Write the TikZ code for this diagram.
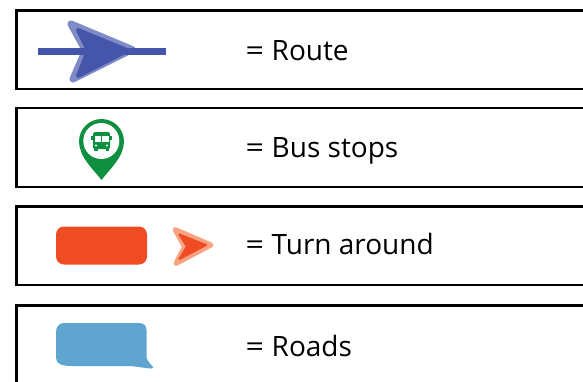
\documentclass[tikz,border=0pt]{standalone}
\usepackage{fontspec}
\setmainfont{Open Sans}
\definecolor{routedark}{HTML}{4455AA}
\definecolor{routelight}{HTML}{7F8BC6}
\definecolor{stopgreen}{HTML}{0F9040}
\definecolor{turnred}{HTML}{F04C23}
\definecolor{turnlight}{HTML}{F9A383}
\definecolor{roadblue}{HTML}{60A5CF}
\tikzset{
    rowbox/.style={draw=black, line width=2.5pt},
    rowlabel/.style={anchor=base west, inner sep=0pt, font=\fontsize{28}{30}\selectfont, text=black},
    rowequals/.style={rowlabel, xscale=1.15},
    softhead/.style={line join=round, line width=#1}
}
\begin{document}
\begin{tikzpicture}[x=1pt, y=-1pt]
    \useasboundingbox (0,0) rectangle (583,381);
    \clip (0,0) rectangle (583,381);

    % Draw the row frames, open at the right side
    \foreach \ytop/\ybot in {10.5/89, 108/187, 206.5/285, 305.5/400} {
        \draw[rowbox] (590,\ytop) -- (16.5,\ytop) -- (16.5,\ybot) -- (590,\ybot);
    }

    % Route symbol
    \filldraw[routelight, softhead=7pt] (71,24) -- (132,49.5) -- (73,79) -- (85.5,50.5) -- cycle;
    \filldraw[routedark, softhead=4pt] (78,30) -- (128,50.5) -- (78,76) -- (88,50.5) -- cycle;
    \fill[routedark] (37.5,47.5) rectangle (165.5,55);

    % Bus stop pin
    \fill[stopgreen] (101.5,180) .. controls (94,170) and (79,157) .. (79,141.5)
        .. controls (79,129) and (89,119) .. (101.5,119)
        .. controls (114,119) and (124,129) .. (124,141.5)
        .. controls (124,157) and (109,170) .. (101.5,180) -- cycle;
    \fill[white] (101.3,141) circle (18);
    % Bus inside the pin
    \fill[stopgreen, rounded corners=1.5pt] (93,132) rectangle (110,149);
    \fill[stopgreen] (91,136) rectangle (112,140);
    \fill[stopgreen] (94,148) rectangle (97.5,151);
    \fill[stopgreen] (105.5,148) rectangle (109,151);
    \fill[white] (94.5,135.5) rectangle (108.5,141.5);
    \fill[stopgreen] (101,135.5) rectangle (102,141.5);
    \fill[white] (96,145.5) circle (1.1);
    \fill[white] (107,145.5) circle (1.1);

    % Turn around symbols
    \fill[turnred, rounded corners=8pt] (56,226.5) rectangle (147,264.5);
    \filldraw[turnlight, softhead=5pt] (175,229.5) -- (211,245) -- (176,263.5) -- (184.5,246.5) -- cycle;
    \filldraw[turnred, softhead=2pt] (179.5,234.5) -- (206,245) -- (179.5,259) -- (187,246.5) -- cycle;

    % Road symbol
    \fill[roadblue] (64,323) -- (139,323)
        .. controls (144,323) and (146.5,326) .. (146.5,330)
        -- (146.5,358) .. controls (148,362) and (151,364) .. (153,367)
        .. controls (153.5,368.5) and (152,368.8) .. (150,368.5)
        .. controls (143,368) and (135,366) .. (128,366)
        -- (72,366) .. controls (62,366) and (56,364) .. (56,358)
        -- (56,332) .. controls (56,326) and (60,323) .. (64,323) -- cycle;

    % Labels
    \node[rowequals] (equalsRoute) at (245.5,60) {=};
    \node[rowlabel] (labelRoute) at (271.5,60) {Route};
    \node[rowequals] (equalsStops) at (245.5,157.5) {=};
    \node[rowlabel] (labelStops) at (271.5,157.5) {Bus stops};
    \node[rowequals] (equalsTurn) at (245.5,254) {=};
    \node[rowlabel] (labelTurn) at (271.5,254) {Turn around};
    \node[rowequals] (equalsRoads) at (245.5,356) {=};
    \node[rowlabel] (labelRoads) at (271.5,356) {Roads};
\end{tikzpicture}
\end{document}
